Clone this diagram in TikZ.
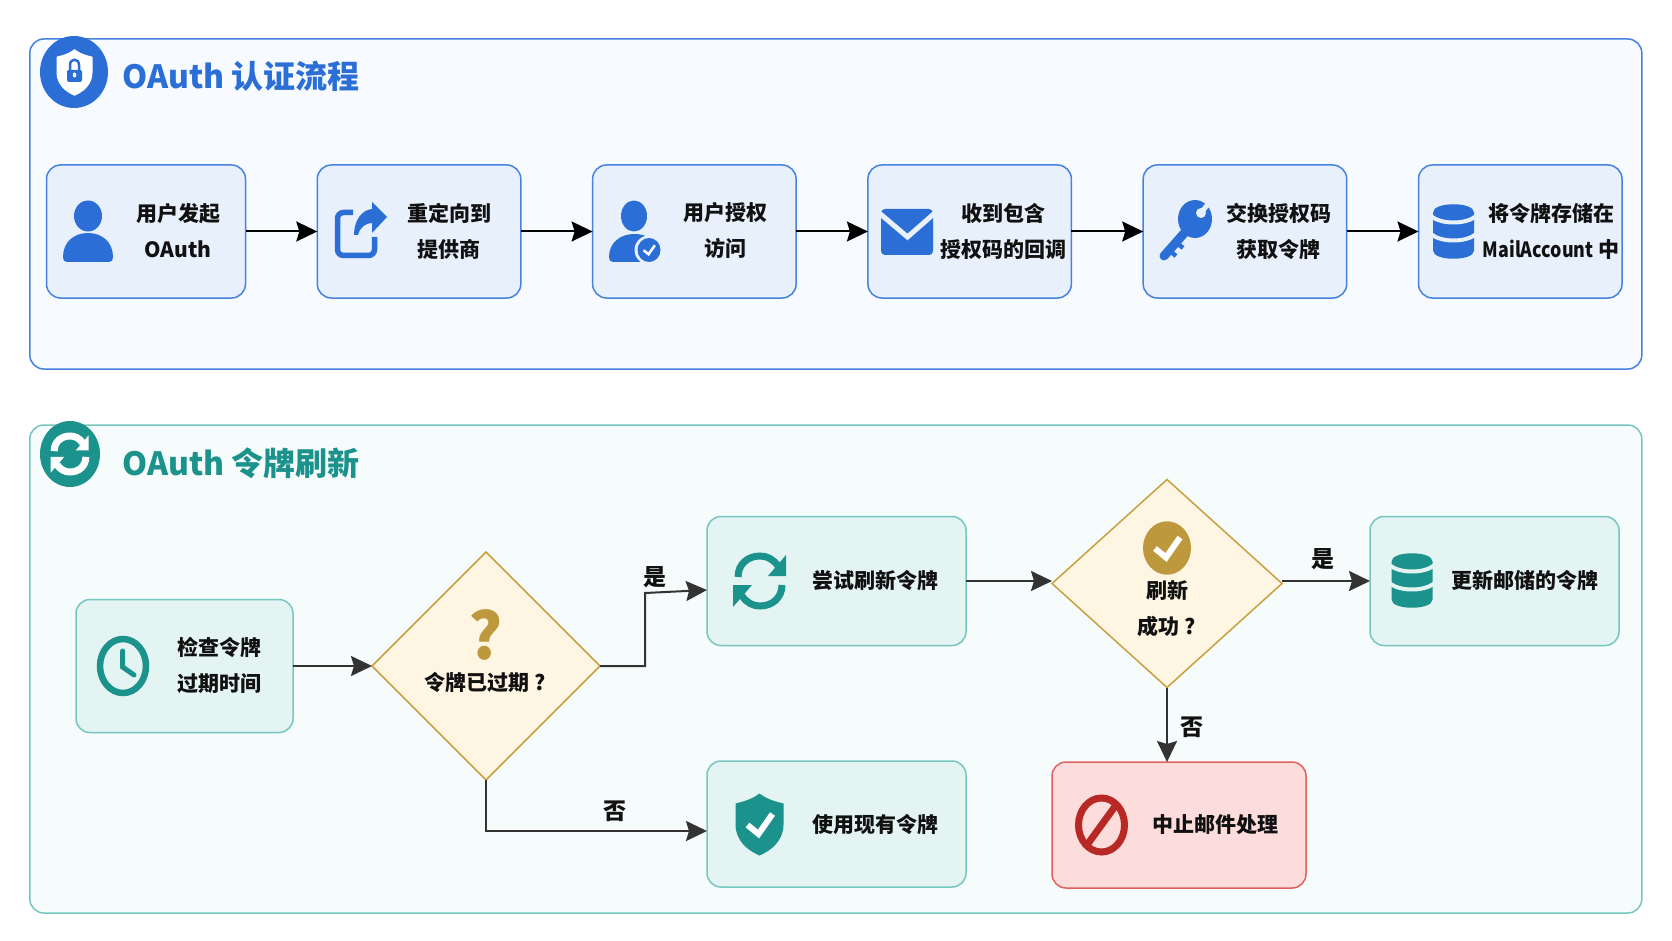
\documentclass[tikz,border=0pt]{standalone}
\usepackage{fontspec}
\setmainfont{Noto Sans CJK SC}
\newfontfamily\narrowfont{Noto Sans CJK SC}[FakeStretch=0.85]
\usetikzlibrary{arrows.meta, positioning, shapes.geometric}
\definecolor{OABlue}{RGB}{42, 110, 214}
\definecolor{OABlueLine}{RGB}{70, 130, 222}
\definecolor{OABlueFill}{RGB}{232, 240, 252}
\definecolor{OABlueBack}{RGB}{247, 250, 255}
\definecolor{OATeal}{RGB}{27, 146, 140}
\definecolor{OATealLine}{RGB}{118, 198, 192}
\definecolor{OATealFill}{RGB}{228, 244, 243}
\definecolor{OATealBack}{RGB}{246, 251, 251}
\definecolor{OAGold}{RGB}{190, 152, 60}
\definecolor{OAGoldLine}{RGB}{200, 160, 64}
\definecolor{OAGoldFill}{RGB}{254, 245, 227}
\definecolor{OARed}{RGB}{184, 40, 36}
\definecolor{OARedLine}{RGB}{226, 96, 96}
\definecolor{OARedFill}{RGB}{253, 221, 220}
\definecolor{OAInk}{RGB}{17, 17, 17}
\definecolor{OAGrey}{RGB}{51, 51, 51}

\tikzset{
  pics/shield/.style={code={
    \fill[#1] (0,-31) .. controls (8,-25) and (16,-23) .. (24,-21) -- (24,0)
      .. controls (24,16) and (12,26) .. (0,31)
      .. controls (-12,26) and (-24,16) .. (-24,0) -- (-24,-21)
      .. controls (-16,-23) and (-8,-25) .. (0,-31) -- cycle;
  }},
  pics/tick/.style={code={
    \draw[#1] (-12,0.5) -- (-1,9.5) -- (13,-10.5);
  }},
  pics/dbstack/.style={code={
    \fill[#1] (-20.5,-19) .. controls (-20.5,-30) and (20.5,-30) .. (20.5,-19) -- (20.5,19)
      .. controls (20.5,30) and (-20.5,30) .. (-20.5,19) -- cycle;
  }},
  pics/dbgaps/.style={code={
    \draw[#1, line width=4pt] (-22,-15) .. controls (-12,-7) and (12,-7) .. (22,-15);
    \draw[#1, line width=4pt] (-22,3) .. controls (-12,11) and (12,11) .. (22,3);
  }},
  pics/refresh/.style={code={
    \draw[#1, line width=7pt] (-22,-4) .. controls (-22,-17) and (-12,-25) .. (0,-25)
      .. controls (7,-25) and (13,-22) .. (18,-15);
    \fill[#1] (26,-26) -- (26,-5) -- (8,-5) -- cycle;
    \draw[#1, line width=7pt] (22,4) .. controls (22,17) and (12,25) .. (0,25)
      .. controls (-7,25) and (-13,22) .. (-18,15);
    \fill[#1] (-27,26) -- (-27,4) -- (-8,4) -- cycle;
  }},
}

\begin{document}
\begin{tikzpicture}[
  x=1pt, y=-1pt,
  node distance=71.8pt,
  panel/.style={
    rectangle, rounded corners=14pt, line width=1.5pt,
    minimum width=1612pt, inner sep=0pt, outer sep=0pt
  },
  box/.style={
    rectangle, rounded corners=14pt, draw=OABlueLine, fill=OABlueFill,
    minimum height=133pt, minimum width=203.5pt,
    inner sep=0pt, outer sep=0pt, line width=1.5pt
  },
  tealbox/.style={box, draw=OATealLine, fill=OATealFill, minimum height=129pt},
  redbox/.style={box, draw=OARedLine, fill=OARedFill, minimum height=126pt},
  decision/.style={
    diamond, draw=OAGoldLine, fill=OAGoldFill, line width=1.5pt,
    inner sep=0pt, outer sep=0pt
  },
  txt/.style={font=\fontsize{21}{36}\selectfont\bfseries, color=OAInk, align=center},
  yesno/.style={txt, font=\fontsize{23}{36}\selectfont\bfseries},
  title/.style={font=\fontsize{32}{38}\selectfont\bfseries, anchor=west},
  arrow/.style={-{Stealth[length=21pt, width=20pt, inset=3pt]}, line width=2pt, color=black},
  refarrow/.style={arrow, color=OAGrey},
]
\useasboundingbox (0,0) rectangle (1672,941);

% panels
\node[panel, draw=OABlueLine, fill=OABlueBack, minimum height=330pt] (authpanel) at (835.8,204) {};
\node[panel, draw=OATealLine, fill=OATealBack, minimum height=488pt] (refreshpanel) at (835.8,669) {};

% headers
\fill[OABlue] (74,72) ellipse [x radius=34, y radius=36];
\pic[scale=.75] at (74.5,72.5) {shield=white};
\fill[OABlue, rounded corners=1.5pt] (67,70) rectangle (82,82);
\draw[OABlue, line width=2.5pt] (70,71) -- (70,65) .. controls (70,58) and (79,58) .. (79,65) -- (79,71);
\fill[white] (74.5,75) ellipse [x radius=1.8, y radius=2.5];
\node[title, color=OABlue] (authtitle) at (119,76) {OAuth 认证流程};

\fill[OATeal] (70,454) ellipse [x radius=30, y radius=33];
\pic[scale=.72] at (70,454) {refresh=white};
\node[title, color=OATeal] (refreshtitle) at (119,463) {OAuth 令牌刷新};

% top row
\node[box, minimum width=199pt] (start) at (146,231.5) {};
\node[box, right=of start] (redirect) {};
\node[box, right=of redirect] (grant) {};
\node[box, right=of grant] (callback) {};
\node[box, right=of callback] (exchange) {};
\node[box, right=of exchange] (store) {};

\node[txt] (starttxt) at (178,231) {用户发起\\OAuth};
\node[txt] (redirecttxt) at (449,231) {重定向到\\提供商};
\node[txt] (granttxt) at (725,231) {用户授权\\访问};
\node[txt] (callbacktxt) at (1003,231) {收到包含\\授权码的回调};
\node[txt] (exchangetxt) at (1278.5,231) {交换授权码\\获取令牌};
\node[txt] (storetxt) at (1551,231) {将令牌存储在\\{\narrowfont MailAccount} 中};

\draw[arrow] (start) -- (redirect);
\draw[arrow] (redirect) -- (grant);
\draw[arrow] (grant) -- (callback);
\draw[arrow] (callback) -- (exchange);
\draw[arrow] (exchange) -- (store);

% top row icons
\fill[OABlue] (88,216) ellipse [x radius=14, y radius=15.5];
\fill[OABlue] (63,257) .. controls (63,242) and (74,233) .. (88,233)
  .. controls (102,233) and (113,242) .. (113,257)
  .. controls (113,260) and (112,262) .. (109,262) -- (67,262)
  .. controls (64,262) and (63,260) .. (63,257) -- cycle;

\draw[OABlue, line width=5.5pt, rounded corners=6pt] (353,212.5) -- (337.5,212.5) -- (337.5,255.5) -- (374.5,255.5) -- (374.5,237);
\fill[OABlue] (354,235) .. controls (354,220) and (362,210) .. (372,209) -- (372,202) -- (387,217)
  -- (372,233) -- (372,223) .. controls (366,223) and (360,227) .. (358,235) -- cycle;

\fill[OABlue] (634,216) ellipse [x radius=13, y radius=15.5];
\fill[OABlue] (609,257) .. controls (609,243) and (620,234) .. (634,234)
  .. controls (645,234) and (652,238) .. (654,245) -- (640,262) -- (613,262)
  .. controls (610,262) and (609,260) .. (609,257) -- cycle;
\fill[OABlueFill] (649,250) ellipse [x radius=14.5, y radius=14.5];
\fill[OABlue] (649,250) ellipse [x radius=11.5, y radius=12];
\pic[scale=.45] at (649,250) {tick={white, line width=2.5pt}};

\fill[OABlue, rounded corners=4pt] (881,209) rectangle (933,255);
\draw[OABlueFill, line width=5pt] (878,212) -- (907.5,237) -- (936,212);

\fill[OABlue] (1195,219) ellipse [x radius=17, y radius=19];
\draw[OABlue, line width=9pt, line cap=round] (1187,230) -- (1164,256);
\draw[OABlue, line width=4.5pt] (1177,243) -- (1183,248);
\draw[OABlue, line width=4.5pt] (1170,251) -- (1176,256);
\fill[OABlueFill] (1201,213) ellipse [x radius=5, y radius=5];
\draw[OABlueFill, line width=5pt] (1201,213) -- (1208,204);

\pic at (1453.5,231.5) {dbstack=OABlue};
\pic at (1453.5,231.5) {dbgaps=OABlueFill};

% bottom flow
\node[tealbox, minimum width=217pt, minimum height=133pt] (check) at (184.5,666) {};
\node[decision, minimum width=228pt, minimum height=228pt] (expired) at (486,666) {};
\node[tealbox, minimum width=259pt] (retry) at (836.5,581) {};
\node[tealbox, minimum width=259pt, minimum height=126pt] (current) at (836.5,824) {};
\node[decision, minimum width=230pt, minimum height=208pt] (success) at (1167,583.5) {};
\node[tealbox, minimum width=249pt] (update) at (1494.5,581) {};
\node[redbox, minimum width=254pt] (abort) at (1179,825) {};

\node[txt] (checktxt) at (219,665) {检查令牌\\过期时间};
\node[txt, font=\fontsize{64}{64}\selectfont\bfseries, color=OAGold] (expiredmark) at (486,635) {?};
\node[txt] (expiredtxt) at (485,682) {令牌已过期 ?};
\node[txt] (retrytxt) at (875.5,580) {尝试刷新令牌};
\node[txt] (currenttxt) at (875.5,824) {使用现有令牌};
\node[txt] (successtxt) at (1167,608.5) {刷新\\成功 ?};
\node[txt] (updatetxt) at (1525,580) {更新邮储的令牌};
\node[txt] (aborttxt) at (1215,824.5) {中止邮件处理};

\coordinate (retryin) at (707,590);
\coordinate (currentin) at (707,831);
\draw[refarrow] (check) -- (expired);
\draw[refarrow] (expired.east) -- (645,666) -- (645,593) -- (retryin);
\draw[refarrow] (expired.south) |- (currentin);
\draw[refarrow] (retry.east) -- (retry.east -| success.west);
\draw[refarrow] (retry.east -| success.east) -- (retry.east -| update.west);
\draw[refarrow] (success.south) -- (success.south |- abort.north);

\node[yesno] (yesa) at (655,577) {是};
\node[yesno] (noa) at (615,811) {否};
\node[yesno] (yesb) at (1323,559) {是};
\node[yesno] (nob) at (1192,727) {否};

% bottom icons
\draw[OATeal, line width=6.5pt] (123,666) ellipse [x radius=23, y radius=27];
\draw[OATeal, line width=5pt, line cap=round] (122.6,651) -- (122.6,667) -- (134,675);
\pic at (760,581) {refresh=OATeal};
\pic at (759.5,824.5) {shield=OATeal};
\pic at (759.5,824.5) {tick={white, line width=6pt}};
\fill[OAGold] (1167,548) ellipse [x radius=24, y radius=26.7];
\pic at (1167,548) {tick={white, line width=6pt}};
\pic at (1412,580.5) {dbstack=OATeal};
\pic at (1412,580.5) {dbgaps=OATealFill};
\draw[OARed, line width=7pt] (1101.5,825) ellipse [x radius=23, y radius=27];
\draw[OARed, line width=7pt] (1087,845) -- (1116,805);
\end{tikzpicture}
\end{document}
